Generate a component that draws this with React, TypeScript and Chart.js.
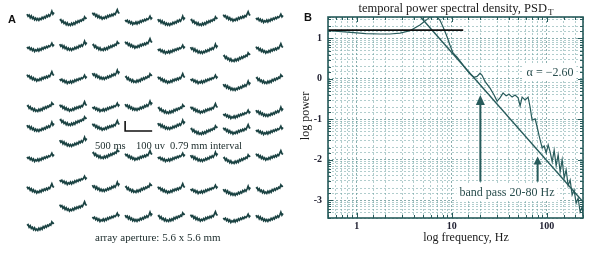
import React, { useEffect, useRef } from 'react';
import { Chart, registerables } from 'chart.js';

Chart.register(...registerables);

// ---------------- Panel A: 8 x 8 electrode array, 500 ms traces ----------------
const traceTimesMs = [0, 20, 40, 60, 80, 100, 120, 140, 160, 180, 200, 220, 240, 260, 280, 300, 320, 340, 360, 380, 400, 420, 440, 460, 480, 500];
const traceShapeA = [28, 8, 20, -8, 10, -16, -2, -28, -12, -32, -16, -34, -14, -26, -4, -18, 2, -10, 14, 2, 22, 8, 30, 58, 28, 44];
const traceShapeB = [16, 24, -2, 12, -14, -2, -26, -8, -32, -20, -34, -12, -28, -8, -22, 4, -10, 12, -2, 18, 8, 28, 20, 52, 36, 40];
const traceShapeC = [34, 14, 24, -2, 12, -14, 2, -22, -8, -30, -14, -26, -6, -20, 4, -10, 10, -2, 18, 4, 24, 14, 38, 62, 34, 26];
const traceShapeD = [10, -4, 8, -16, -2, -26, -10, -34, -18, -28, -10, -30, -8, -22, 2, -12, 8, -4, 16, 4, 22, 14, 28, 48, 22, 36];
const traceShapes = [traceShapeA, traceShapeB, traceShapeC, traceShapeD];

const electrodePitchMs = 605; // 0.79 mm interval
const electrodePitchUv = 300;
// DC offset (µV) of each electrode trace; null = slot used by the scale bar
const dcOffsetRow0 = [0, -50, 10, -40, -50, -50, -10, -20];
const dcOffsetRow1 = [-10, 0, 0, 20, -30, -30, -110, -30];
const dcOffsetRow2 = [-10, -30, 10, -20, -30, -30, -100, -30];
const dcOffsetRow3 = [-10, -10, -10, 0, -30, -30, -80, -60];
const dcOffsetRow4 = [90, 150, 100, null, 110, 60, 60, 60];
const dcOffsetRow5 = [90, 240, 120, 100, 90, 90, 70, 100];
const dcOffsetRow6 = [70, 160, 90, 80, 70, 70, 50, 70];
const dcOffsetRow7 = [0, 190, 90, 90, 90, 90, 80, 90];
const dcOffsetUv = [dcOffsetRow0, dcOffsetRow1, dcOffsetRow2, dcOffsetRow3, dcOffsetRow4, dcOffsetRow5, dcOffsetRow6, dcOffsetRow7];

const scaleBarMs = 500;
const scaleBarUv = 100;
const scaleBarColumn = 3;
const scaleBarRow = 4;
const scaleBarOffsetUv = 60;

const panelALabel = 'A';
const scaleLabels = ['500 ms', '100 uv', '0.79 mm interval'];
const apertureLabel = 'array aperture: 5.6 x 5.6 mm';

// ---------------- Panel B: temporal power spectral density ----------------
const psdFreqHz = [0.5, 0.75, 1.25, 1.76, 2.24, 2.86, 3.64, 4.63, 5.64, 6.35, 7.0, 7.53, 8.09, 8.93, 9.59, 10.33, 11.38, 12.53, 13.8, 15.6, 17.18, 18.45, 19.86, 20.84, 22.44, 25.29, 27.86, 29.99, 32.21, 34.67, 37.33, 40.09, 43.15, 46.34, 49.89, 52.36, 54.95, 59.16, 63.53, 66.68, 69.98, 75.34, 79.07, 82.99, 89.33, 93.76, 98.4, 103.3, 108.4, 113.8, 119.4, 125.3, 131.5, 138.0, 144.9, 152.1, 159.6, 167.5, 175.8, 184.5, 193.6, 203.2, 213.3, 223.9, 235.0, 241.0];
const psdLogPower = [1.19, 1.16, 1.12, 1.11, 1.11, 1.13, 1.19, 1.33, 1.49, 1.6, 1.53, 1.45, 1.29, 1.04, 0.83, 0.64, 0.54, 0.41, 0.27, 0.12, 0.04, 0.06, 0.14, 0.09, -0.07, -0.23, -0.4, -0.55, -0.47, -0.35, -0.42, -0.38, -0.45, -0.4, -0.47, -0.67, -0.45, -0.52, -0.45, -0.7, -1.02, -0.99, -1.19, -1.41, -1.71, -1.66, -1.83, -1.63, -1.81, -2.05, -1.76, -2.15, -1.88, -2.3, -2.0, -2.45, -2.25, -2.64, -2.5, -2.87, -2.75, -3.07, -2.95, -3.29, -3.17, -3.39];
const fitFreqHz = [4.7, 240];
const fitLogPower = [1.53, -3.04];
const plateauFreqHz = [0.5, 13.2];
const plateauLogPower = [1.205, 1.205];
const bandFreqHz = [20, 80];
const arrowTipLogPower = [-0.4, -1.92];
const arrowTailLogPower = [-2.54, -2.54];
const xTickLabels = ['1', '10', '100'];
const yTickLabels = ['1', '0', '-1', '-2', '-3'];
const freqRangeHz = [0.5, 240];
const logPowerRange = [-3.44, 1.53];

const panelBLabel = 'B';
const titleMain = 'temporal power spectral density, PSD';
const titleSub = 'T';
const xTitle = 'log frequency, Hz';
const yTitle = 'log power';
const slopeLabel = 'α = −2.60';
const bandLabel = 'band pass 20-80 Hz';

const SERIF = '"Liberation Serif", "DejaVu Serif", serif';
const SANS = '"Liberation Sans", Arial, sans-serif';
const TEAL = '#275b5b';
const TRACE = '#1a4242';

const panelAText = {
  id: 'panelAText',
  afterDraw(chart: any) {
    const ctx = chart.ctx;
    ctx.save();
    ctx.fillStyle = '#111';
    ctx.font = `bold 11px ${SANS}`;
    ctx.textBaseline = 'alphabetic';
    ctx.fillText(panelALabel, 8, 23);
    ctx.fillStyle = '#1a2a2a';
    ctx.font = `10.5px ${SERIF}`;
    ctx.textBaseline = 'middle';
    ctx.fillText(scaleLabels[0], 95, 146);
    ctx.fillText(scaleLabels[1], 136, 146);
    ctx.fillText(scaleLabels[2], 170, 146);
    ctx.font = `11px ${SERIF}`;
    ctx.fillText(apertureLabel, 95, 238);
    ctx.restore();
  },
};

const panelBDecor = {
  id: 'panelBDecor',
  afterDraw(chart: any) {
    const ctx = chart.ctx;
    const { left, right, top, bottom } = chart.chartArea;
    const xs = chart.scales.x;
    const ys = chart.scales.y;
    ctx.save();
    // inner tick marks
    ctx.strokeStyle = TEAL;
    ctx.lineWidth = 1;
    xs.ticks.forEach((t: any) => {
      const p = Math.round(xs.getPixelForValue(t.value)) + 0.5;
      const major = xTickLabels.includes(String(t.value));
      const l = major ? 5 : 3;
      ctx.beginPath();
      ctx.moveTo(p, bottom);
      ctx.lineTo(p, bottom - l);
      ctx.moveTo(p, top);
      ctx.lineTo(p, top + l);
      ctx.stroke();
    });
    ys.ticks.forEach((t: any) => {
      const p = Math.round(ys.getPixelForValue(t.value)) + 0.5;
      const lg = Math.log10(t.value);
      const major = Math.abs(lg - Math.round(lg)) < 1e-6;
      const l = major ? 5 : 3;
      ctx.beginPath();
      ctx.moveTo(left, p);
      ctx.lineTo(left + l, p);
      ctx.moveTo(right, p);
      ctx.lineTo(right - l, p);
      ctx.stroke();
    });
    // frame
    ctx.lineWidth = 1.6;
    ctx.strokeRect(left, top, right - left, bottom - top);

    // arrows
    ctx.fillStyle = TEAL;
    ctx.strokeStyle = TEAL;
    bandFreqHz.forEach((f, i) => {
      const x = xs.getPixelForValue(f);
      const yTip = ys.getPixelForValue(Math.pow(10, arrowTipLogPower[i]));
      const yTail = ys.getPixelForValue(Math.pow(10, arrowTailLogPower[i]));
      const hh = i === 0 ? 10 : 8;
      const hw = i === 0 ? 4.5 : 4;
      ctx.lineWidth = 2;
      ctx.beginPath();
      ctx.moveTo(x, yTail);
      ctx.lineTo(x, yTip + hh - 1);
      ctx.stroke();
      ctx.beginPath();
      ctx.moveTo(x, yTip);
      ctx.lineTo(x - hw, yTip + hh);
      ctx.lineTo(x + hw, yTip + hh);
      ctx.closePath();
      ctx.fill();
    });

    // annotation boxes
    ctx.font = `12px ${SERIF}`;
    ctx.textBaseline = 'middle';
    ctx.textAlign = 'center';
    const boxText = (txt: string, cx: number, cy: number) => {
      const w = ctx.measureText(txt).width;
      ctx.fillStyle = '#ffffff';
      ctx.fillRect(cx - w / 2 - 3, cy - 8, w + 6, 16);
      ctx.fillStyle = '#2a4e4e';
      ctx.fillText(txt, cx, cy);
    };
    boxText(slopeLabel, 250, 73);
    boxText(bandLabel, 207, 193);

    // title with subscript
    ctx.fillStyle = '#1a1a1a';
    ctx.textAlign = 'left';
    ctx.textBaseline = 'alphabetic';
    ctx.font = `12.5px ${SERIF}`;
    const wMain = ctx.measureText(titleMain).width;
    ctx.font = `9px ${SERIF}`;
    const wSub = ctx.measureText(titleSub).width;
    const startX = 156 - (wMain + wSub + 1) / 2;
    ctx.font = `12.5px ${SERIF}`;
    ctx.fillText(titleMain, startX, 12);
    ctx.font = `9px ${SERIF}`;
    ctx.fillText(titleSub, startX + wMain + 1, 15);

    // axis titles
    ctx.font = `12px ${SERIF}`;
    ctx.textAlign = 'center';
    ctx.textBaseline = 'middle';
    ctx.fillText(xTitle, 166, 238);
    ctx.save();
    ctx.translate(6, 116);
    ctx.rotate(-Math.PI / 2);
    ctx.fillText(yTitle, 0, 0);
    ctx.restore();

    // panel label
    ctx.font = `bold 11px ${SANS}`;
    ctx.textAlign = 'left';
    ctx.textBaseline = 'alphabetic';
    ctx.fillStyle = '#111';
    ctx.fillText(panelBLabel, 4, 21);
    ctx.restore();
  },
};

function PanelA() {
  const ref = useRef<HTMLCanvasElement>(null);
  useEffect(() => {
    const datasets: any[] = [];
    dcOffsetUv.forEach((row, r) => {
      row.forEach((off, c) => {
        if (off === null) return;
        const shape = traceShapes[(r * 3 + c) % traceShapes.length];
        datasets.push({
          data: traceTimesMs.map((t, k) => ({
            x: c * electrodePitchMs + t,
            y: -r * electrodePitchUv + off + shape[k],
          })),
          borderColor: TRACE,
          borderWidth: 1.7,
          showLine: true,
          pointRadius: 0,
          tension: 0,
        });
      });
    });
    const sx = scaleBarColumn * electrodePitchMs;
    const sy = -scaleBarRow * electrodePitchUv + scaleBarOffsetUv;
    datasets.push({
      data: [
        { x: sx + scaleBarMs, y: sy },
        { x: sx, y: sy },
        { x: sx, y: sy + scaleBarUv },
      ],
      borderColor: '#111',
      borderWidth: 1.6,
      showLine: true,
      pointRadius: 0,
    });
    const chart = new Chart(ref.current!, {
      type: 'scatter',
      data: { datasets },
      options: {
        animation: false,
        responsive: false,
        devicePixelRatio: 1,
        layout: { padding: 0 },
        plugins: { legend: { display: false }, tooltip: { enabled: false } },
        scales: {
          x: { type: 'linear', display: false, min: -499, max: 5049 },
          y: { type: 'linear', display: false, min: -2360, max: 170 },
        },
      },
      plugins: [panelAText],
    } as any);
    return () => chart.destroy();
  }, []);
  return <canvas ref={ref} width={300} height={253} />;
}

function PanelB() {
  const ref = useRef<HTMLCanvasElement>(null);
  useEffect(() => {
    const toPts = (fs: number[], ls: number[]) => fs.map((f, i) => ({ x: f, y: Math.pow(10, ls[i]) }));
    const isDecade = (v: number) => {
      const l = Math.log10(v);
      return Math.abs(l - Math.round(l)) < 1e-6;
    };
    const gridColor = (ctx: any) => (ctx.tick && isDecade(ctx.tick.value) ? 'rgba(60,120,120,0.6)' : 'rgba(100,155,155,0.5)');
    const chart = new Chart(ref.current!, {
      type: 'scatter',
      data: {
        datasets: [
          { data: toPts(plateauFreqHz, plateauLogPower), borderColor: '#111', borderWidth: 1.7, showLine: true, pointRadius: 0 },
          { data: toPts(fitFreqHz, fitLogPower), borderColor: TEAL, borderWidth: 1.4, showLine: true, pointRadius: 0 },
          { data: toPts(psdFreqHz, psdLogPower), borderColor: TEAL, borderWidth: 1.2, showLine: true, pointRadius: 0 },
        ],
      },
      options: {
        animation: false,
        responsive: false,
        devicePixelRatio: 1,
        layout: { padding: { top: 17, right: 10, left: 0, bottom: 0 } },
        plugins: { legend: { display: false }, tooltip: { enabled: false }, title: { display: false } },
        scales: {
          x: {
            type: 'logarithmic',
            min: freqRangeHz[0],
            max: freqRangeHz[1],
            afterFit: (s: any) => { s.height = 35; },
            grid: { drawTicks: false, color: gridColor, lineWidth: 1 },
            border: { display: false, dash: [2, 2] },
            ticks: {
              autoSkip: false,
              maxRotation: 0,
              padding: 2,
              color: '#223',
              font: { family: SERIF, size: 10, weight: 'bold' },
              callback: (v: any) => {
                const s = String(Math.round(Number(v)));
                return isDecade(Number(v)) && xTickLabels.includes(s) ? s : '';
              },
            },
          },
          y: {
            type: 'logarithmic',
            min: Math.pow(10, logPowerRange[0]),
            max: Math.pow(10, logPowerRange[1]),
            afterFit: (s: any) => { s.width = 28; },
            grid: { drawTicks: false, color: gridColor, lineWidth: 1 },
            border: { display: false, dash: [2, 2] },
            ticks: {
              autoSkip: false,
              padding: 6,
              color: '#223',
              font: { family: SERIF, size: 10, weight: 'bold' },
              callback: (v: any) => {
                if (!isDecade(Number(v))) return '';
                const s = String(Math.round(Math.log10(Number(v))));
                return yTickLabels.includes(s) ? s : '';
              },
            },
          },
        },
      },
      plugins: [panelBDecor],
    } as any);
    return () => chart.destroy();
  }, []);
  return <canvas ref={ref} width={293} height={253} />;
}

export default function App() {
  return (
    <div style={{ position: 'fixed', left: 0, top: 0, width: 593, height: 253, background: '#fff', overflow: 'hidden' }}>
      <div style={{ position: 'absolute', left: 0, top: 0, width: 300, height: 253 }}>
        <PanelA />
      </div>
      <div style={{ position: 'absolute', left: 300, top: 0, width: 293, height: 253 }}>
        <PanelB />
      </div>
    </div>
  );
}
